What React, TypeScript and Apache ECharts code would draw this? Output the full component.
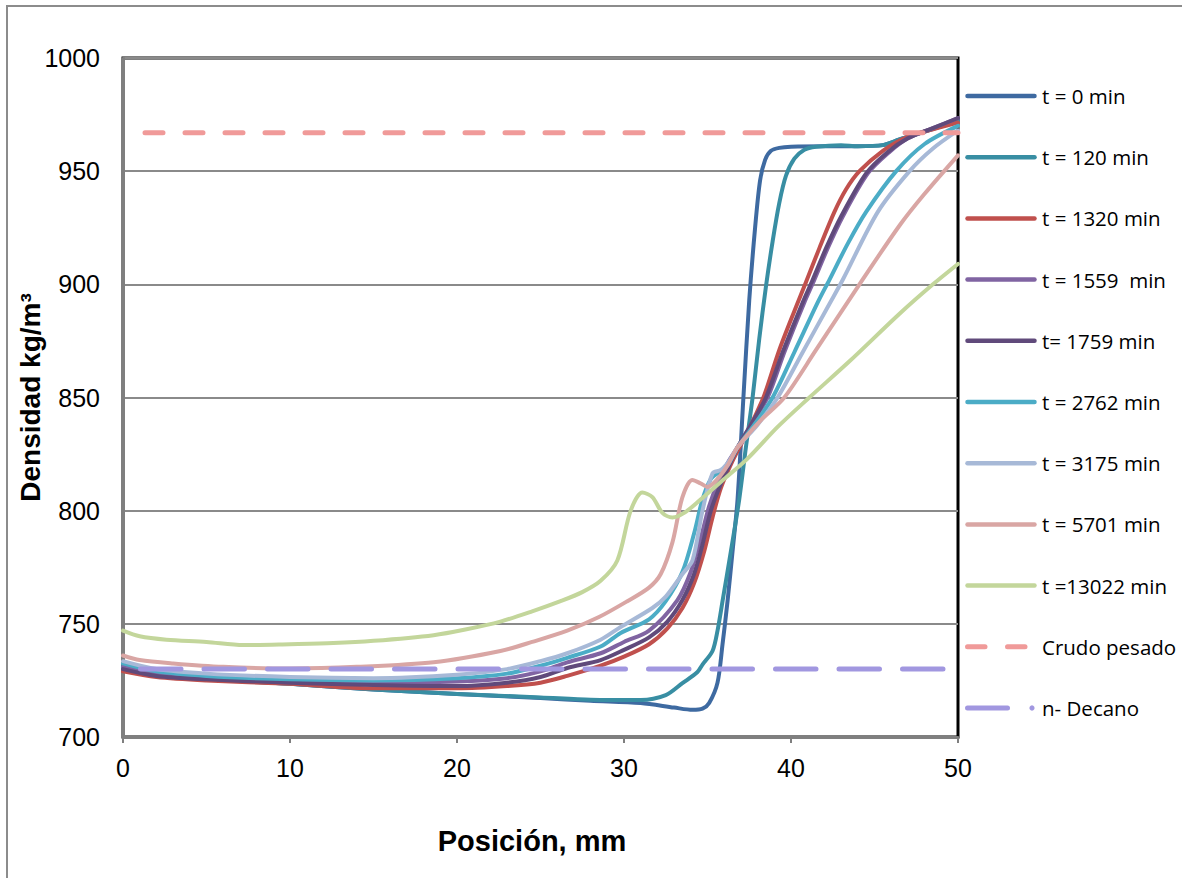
import React, { useEffect, useRef } from "react";
import * as echarts from "echarts";

const seriesNames = [
  "t = 0 min",
  "t = 120 min",
  "t = 1320 min",
  "t = 1559  min",
  "t= 1759 min",
  "t = 2762 min",
  "t = 3175 min",
  "t = 5701 min",
  "t =13022 min",
  "Crudo pesado",
  "n- Decano",
];

const t0: [number, number][] = [
  [0, 730], [2, 727], [5, 725.5], [10, 723.5], [15, 721], [20, 719], [25, 717.2], [28, 716], [31, 715],
  [33, 713], [34.1, 712], [34.7, 712.5], [35.1, 715], [35.6, 724], [35.9, 741], [36.2, 760], [36.5, 782],
  [36.8, 805], [37.15, 850], [37.5, 893], [37.85, 925], [38.15, 946], [38.45, 955], [38.8, 959], [39.3, 960.3],
  [40, 960.8], [42, 961], [44, 961], [45.5, 961.5], [46.5, 964], [48, 967.5], [50, 972.5],
];
const t120: [number, number][] = [
  [0, 731.5], [2, 727.5], [5, 725.5], [10, 723.5], [15, 721], [20, 719], [25, 717.5], [28, 716.5],
  [31, 716.3], [32.5, 718.5], [33.5, 723.8], [34.4, 728.7], [34.7, 732], [35.3, 738], [35.6, 747],
  [35.9, 760], [36.4, 782], [36.9, 805], [37.3, 828], [37.7, 850], [38.1, 876], [38.5, 899], [38.9, 919],
  [39.3, 936], [39.7, 948], [40.2, 955.5], [40.8, 959.5], [41.5, 960.8], [43, 961.5], [44, 961],
  [45.5, 961.5], [46.5, 964], [48, 967.5], [50, 972],
];
const t1320: [number, number][] = [
  [0, 729], [2, 726.5], [5, 725], [10, 723.5], [15, 721.5], [20, 721.5], [23, 722.5], [25, 724], [26.6, 727],
  [28.6, 731.5], [30, 735.5], [31.5, 741], [32.6, 748], [33.5, 757], [34.2, 768], [34.8, 782], [35.3, 797],
  [35.8, 810], [36.5, 822], [37.2, 832], [37.8, 841], [38.4, 851], [39.3, 871], [40.3, 890], [40.9, 901],
  [41.7, 916], [42.6, 932], [43.3, 942], [44.1, 950], [45.5, 959], [46.9, 965], [48.5, 968.5], [50, 971.5],
];
const t1559: [number, number][] = [
  [0, 731], [2, 728], [5, 726], [10, 724.5], [15, 724], [20, 724.5], [23, 726], [25, 729], [26.6, 733],
  [28.6, 737], [30, 742], [31.5, 747], [33.2, 760.5], [34, 773], [34.6, 788], [35.1, 802], [35.6, 812],
  [36.2, 821], [36.8, 828], [37.6, 838], [38.6, 850], [39.6, 870], [40.8, 892], [41.4, 902], [42.2, 916],
  [43.1, 930], [44.6, 949], [45.9, 958.5], [47, 964.5], [48.5, 969], [50, 973.5],
];
const t1759: [number, number][] = [
  [0, 730], [2, 727], [5, 725.5], [10, 724], [15, 723], [20, 722.5], [23, 724], [25, 726.5], [26.6, 730.5],
  [28.6, 734], [30, 738.5], [31.5, 744], [32.6, 751], [33.5, 760.5], [34.2, 772], [34.7, 785], [35.2, 800],
  [35.7, 810], [36.3, 820], [36.8, 828], [37.6, 838], [38.5, 850], [39.5, 870], [40.7, 892], [41.3, 902],
  [42.1, 916], [43, 930], [44.5, 949], [45.8, 958.5], [47, 964.5], [48.5, 969], [50, 973.5],
];
const t2762: [number, number][] = [
  [0, 732.5], [2, 729], [5, 727], [10, 725.5], [15, 725], [20, 726], [23, 728], [25, 731.5], [26.6, 735],
  [28.6, 740], [29.8, 746], [31.5, 752], [32.5, 760], [33.5, 773], [34.2, 790], [34.7, 805], [35.2, 814],
  [35.7, 817], [36.2, 820], [36.8, 828], [37.8, 838], [38.9, 850], [40.2, 870], [41.6, 892], [42.3, 902],
  [43.4, 918], [44.5, 932], [46.3, 950], [48, 962], [50, 970],
];
const t3175: [number, number][] = [
  [0, 733.5], [2, 730], [5, 728], [10, 726.5], [15, 726], [20, 727.5], [23, 730], [25, 733.5], [26.6, 737],
  [28.6, 743], [29.8, 748.6], [31.7, 757], [32.5, 762], [33.5, 772], [34.1, 778], [34.7, 800], [35.3, 816.5],
  [35.8, 818], [36.3, 822], [36.8, 828], [38, 838], [39.2, 850], [40.7, 870], [42.2, 890], [43.1, 902],
  [45.2, 932], [47.1, 950], [48.5, 960], [50, 968],
];
const t5701: [number, number][] = [
  [0, 736], [1, 734], [3, 732.5], [6, 731], [10, 730.3], [14, 731], [18.6, 733], [22.6, 738], [24.5, 742],
  [26.6, 747], [28.5, 753], [30.2, 760], [31.5, 766], [32.2, 772], [32.9, 786], [33.5, 806], [34.1, 813.6],
  [34.6, 812], [35, 810.5], [35.6, 814], [36.2, 820], [36.8, 828], [38.2, 840], [39.6, 850], [41.5, 871],
  [44.1, 900], [46.5, 926], [48, 940], [50, 957],
];
const t13022: [number, number][] = [
  [0, 747], [1, 744.5], [2.6, 743], [5, 742], [7.2, 740.6], [10, 741], [12.6, 741.5], [15, 742.5],
  [18.6, 745], [20.5, 747.5], [22.6, 751], [24.5, 755.5], [26.2, 760], [27.5, 764], [28.6, 769],
  [29.6, 778], [30.4, 800], [31.1, 808], [31.7, 806], [32.3, 799], [32.9, 797], [33.6, 799], [34.55, 804.7],
  [36, 814], [37.4, 823], [39.2, 837], [41.1, 850], [43.5, 866], [46.5, 887], [48.5, 900], [50, 909],
];
const crudoPesado: [number, number][] = [[0, 967], [50, 967]];
const nDecano: [number, number][] = [[0, 730], [50, 730]];

const curveData = [t0, t120, t1320, t1559, t1759, t2762, t3175, t5701, t13022];
const curveColors = [
  "#3E6AA1", "#388EA3", "#C0504D", "#8064A2", "#604A7B", "#4BACC6", "#A7B9D7", "#D9A6A4", "#C3D69B",
];
const crudoColor = "#F09A99";
const decanoColor = "#A197E0";

export default function App() {
  const ref = useRef<HTMLDivElement>(null);
  useEffect(() => {
    if (!ref.current) return;
    const chart = echarts.init(ref.current, undefined, { renderer: "svg" });
    const series: any[] = curveData.map((d, i) => ({
      name: seriesNames[i],
      type: "line",
      data: d,
      showSymbol: false,
      symbol: "none",
      smooth: 0.3,
      lineStyle: { color: curveColors[i], width: 4, cap: "round", join: "round" },
      itemStyle: { color: curveColors[i] },
      z: 3,
    }));
    series.push({
      name: seriesNames[9],
      type: "line",
      data: crudoPesado,
      symbol: "none",
      lineStyle: { color: crudoColor, width: 5, type: [18, 22], dashOffset: 17.5, cap: "round" },
      itemStyle: { color: crudoColor },
      z: 4,
    });
    series.push({
      name: seriesNames[10],
      type: "line",
      data: nDecano,
      symbol: "none",
      lineStyle: { color: decanoColor, width: 5, type: [40.5, 23], dashOffset: 46, cap: "round" },
      itemStyle: { color: decanoColor },
      z: 4,
    });

    // Manual legend (lines + texts)
    const legendTop = 96;
    const legendStep = 61.2;
    const legendEls: any[] = [];
    seriesNames.forEach((name, i) => {
      const y = legendTop + i * legendStep;
      if (i < 9) {
        legendEls.push({
          type: "line",
          shape: { x1: 967.5, y1: y, x2: 1034.5, y2: y },
          style: { stroke: curveColors[i], lineWidth: 4.5, lineCap: "round" },
          silent: true,
        });
      } else if (i === 9) {
        legendEls.push({
          type: "line",
          shape: { x1: 967.5, y1: y, x2: 985, y2: y },
          style: { stroke: crudoColor, lineWidth: 5, lineCap: "round" },
          silent: true,
        });
        legendEls.push({
          type: "line",
          shape: { x1: 1007.5, y1: y, x2: 1025, y2: y },
          style: { stroke: crudoColor, lineWidth: 5, lineCap: "round" },
          silent: true,
        });
      } else {
        legendEls.push({
          type: "line",
          shape: { x1: 967.5, y1: y, x2: 1007.5, y2: y },
          style: { stroke: decanoColor, lineWidth: 5, lineCap: "round" },
          silent: true,
        });
        legendEls.push({
          type: "circle",
          shape: { cx: 1032, cy: y, r: 2.6 },
          style: { fill: decanoColor },
          silent: true,
        });
      }
      legendEls.push({
        type: "text",
        x: 1042,
        y: y,
        style: {
          text: name,
          fontFamily: "Open Sans",
          fontSize: 20.5,
          fill: "#000",
          verticalAlign: "middle",
          align: "left",
        },
        silent: true,
      });
    });

    chart.setOption({
      animation: false,
      backgroundColor: "#fff",
      grid: {
        left: 123, top: 58, right: 224, bottom: 141,
        show: true, borderColor: "#000", borderWidth: 3, backgroundColor: "transparent",
        outerBoundsMode: "none",
        containLabel: false,
      },
      xAxis: {
        type: "value", min: 0, max: 50, interval: 10,
        name: "Posición, mm", nameLocation: "middle", nameGap: 89, nameMoveOverlap: false,
        nameTextStyle: {
          fontFamily: "Liberation Sans", fontWeight: "bold", fontSize: 29, color: "#000",
          verticalAlign: "top", padding: [0, 17, 0, 0],
        },
        axisLine: { show: true, onZero: false, lineStyle: { color: "#7f7f7f", width: 3 } },
        axisTick: { show: true, length: 6, lineStyle: { color: "#7f7f7f", width: 2 } },
        axisLabel: { fontFamily: "Liberation Sans", fontSize: 25, color: "#000", margin: 18 },
        splitLine: { show: false },
      },
      yAxis: {
        type: "value", min: 700, max: 1000, interval: 50,
        name: "Densidad kg/m³", nameLocation: "middle", nameGap: 79, nameMoveOverlap: false,
        nameTextStyle: { fontFamily: "Liberation Sans", fontWeight: "bold", fontSize: 28, color: "#000" },
        axisLine: { show: true, onZero: false, lineStyle: { color: "#7f7f7f", width: 3 } },
        axisTick: { show: false },
        axisLabel: {
          fontFamily: "Liberation Sans", fontSize: 25, color: "#000", margin: 23,
          formatter: (v: number) => String(v),
        },
        splitLine: { show: true, lineStyle: { color: "#8a8a8a", width: 2 } },
      },
      graphic: [
        {
          type: "rect",
          shape: { x: 7, y: 6, width: 1300, height: 1000 },
          style: { fill: "none", stroke: "#8c8c8c", lineWidth: 2 },
          silent: true,
          z: -10,
        },
        ...legendEls,
      ],
      series,
    });
    return () => chart.dispose();
  }, []);
  return (
    <div
      ref={ref}
      style={{ position: "fixed", left: 0, top: 0, width: 1182, height: 878, background: "#fff" }}
    />
  );
}
